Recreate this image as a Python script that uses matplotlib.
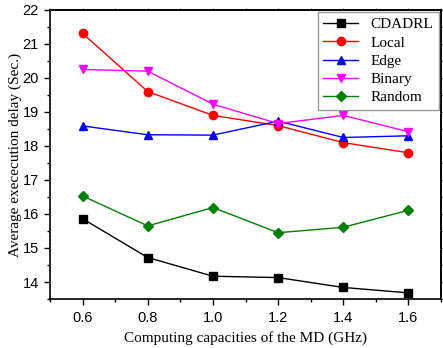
import matplotlib
matplotlib.use('Agg')
import matplotlib.pyplot as plt
from matplotlib.ticker import MultipleLocator, NullFormatter

# data
capacity = [0.6, 0.8, 1.0, 1.2, 1.4, 1.6]
cdadrl = [15.86, 14.72, 14.17, 14.13, 13.84, 13.68]
local = [21.31, 19.6, 18.9, 18.6, 18.1, 17.8]
edge = [18.59, 18.33, 18.32, 18.73, 18.25, 18.3]
binary = [20.25, 20.2, 19.23, 18.66, 18.9, 18.42]
rnd = [16.53, 15.65, 16.19, 15.45, 15.61, 16.11]

series = [
    ('CDADRL', cdadrl, 'black', 's'),
    ('Local', local, 'red', 'o'),
    ('Edge', edge, 'blue', '^'),
    ('Binary', binary, 'magenta', 'v'),
    ('Random', rnd, 'green', 'D'),
]

fig = plt.figure(figsize=(4.43, 3.48), dpi=100)
ax = fig.add_axes([0.1129, 0.1408, 0.8826, 0.8305])

for name, vals, col, mk in series:
    ax.plot(capacity, vals, color=col, marker=mk, markersize=6 if mk != 'D' else 5.5,
            linewidth=1, label=name)

ax.set_xlim(0.5, 1.7)
ax.set_ylim(13.5, 22)
ax.xaxis.set_major_locator(MultipleLocator(0.2))
ax.xaxis.set_minor_locator(MultipleLocator(0.1))
ax.yaxis.set_major_locator(MultipleLocator(1))
ax.yaxis.set_minor_locator(MultipleLocator(0.5))
ax.set_xticks([0.6, 0.8, 1.0, 1.2, 1.4, 1.6])
ax.set_xticklabels(['0.6', '0.8', '1.0', '1.2', '1.4', '1.6'])

ax.tick_params(which='both', direction='out', labelsize=10.5, width=1)
ax.tick_params(which='major', length=4.5)
ax.tick_params(which='minor', length=2.5)
ax.tick_params(axis='x', which='major', pad=4)
for lab in ax.get_xticklabels() + ax.get_yticklabels():
    lab.set_fontfamily('Liberation Sans')
for s in ax.spines.values():
    s.set_linewidth(1.2)

# tiny mirrored ticks on top and right
top = ax.secondary_xaxis('top')
top.xaxis.set_major_locator(MultipleLocator(0.1))
top.xaxis.set_major_formatter(NullFormatter())
top.tick_params(length=1.5, width=0.8, color='#555555')
right = ax.secondary_yaxis('right')
right.yaxis.set_major_locator(MultipleLocator(0.5))
right.yaxis.set_major_formatter(NullFormatter())
right.tick_params(length=1.5, width=0.8, color='#555555')
for sec in (top, right):
    for s in sec.spines.values():
        s.set_linewidth(1.2)

ax.set_xlabel('Computing capacities of the MD (GHz)', family='Liberation Serif',
              fontsize=11, va='center')
ax.xaxis.set_label_coords(0.5, -0.135)
ax.set_ylabel('Average exececution delay (Sec.)', family='Liberation Serif',
              fontsize=11, va='center')
ax.yaxis.set_label_coords(-0.088, 0.5)

leg = ax.legend(loc='upper right', prop={'family': 'Liberation Serif', 'size': 11},
                fancybox=False, edgecolor='gray', borderaxespad=0.15,
                handlelength=2.3, labelspacing=0.3, borderpad=0.35)
leg.get_frame().set_linewidth(1)

fig.savefig('out.png', dpi=100)
